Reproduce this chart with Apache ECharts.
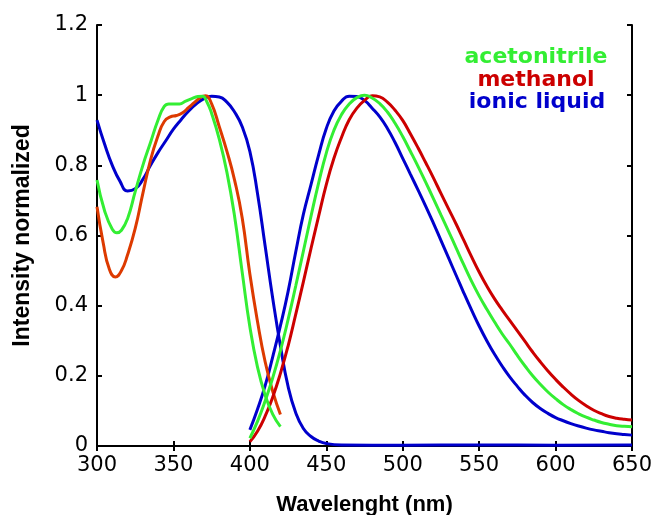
<!DOCTYPE html>
<html>
<head>
<meta charset="utf-8">
<script src="https://cdn.jsdelivr.net/npm/echarts@6/dist/echarts.min.js"></script>
<style>
html, body { margin: 0; padding: 0; background: #fff; }
#chart { width: 654px; height: 515px; }
</style>
</head>
<body>
<div id="chart"></div>
<script>
// absorption spectra [wavelength, intensity]
const absAcetonitrile = [[300,0.758],[305,0.67],[310,0.618],[313,0.608],[316,0.615],[320,0.648],[325,0.725],[330,0.8],[335,0.865],[340,0.93],[344,0.968],[347,0.975],[350,0.975],[354,0.975],[358,0.983],[362,0.99],[366,0.996],[369,0.997],[372,0.98],[375,0.948],[380,0.875],[385,0.78],[390,0.655],[395,0.495],[400,0.34],[405,0.225],[410,0.145],[415,0.09],[420,0.055]]
const absMethanol = [[300,0.682],[304,0.58],[308,0.505],[312,0.482],[316,0.5],[320,0.545],[325,0.62],[330,0.72],[335,0.815],[340,0.885],[344,0.925],[348,0.938],[352,0.942],[356,0.95],[360,0.965],[364,0.98],[368,0.994],[371,0.998],[375,0.975],[380,0.91],[385,0.84],[390,0.758],[395,0.65],[400,0.49],[405,0.355],[410,0.24],[415,0.155],[420,0.09]]
const absIonic = [[300,0.929],[305,0.86],[310,0.8],[315,0.755],[320,0.727],[325,0.733],[330,0.76],[335,0.8],[340,0.837],[345,0.87],[350,0.903],[355,0.93],[360,0.955],[365,0.975],[370,0.99],[375,0.997],[380,0.995],[385,0.98],[390,0.952],[395,0.91],[400,0.84],[405,0.72],[410,0.57],[415,0.42],[420,0.285],[425,0.17],[430,0.095],[435,0.05],[440,0.027],[445,0.014],[450,0.007],[460,0.003],[500,0.002],[550,0.003],[600,0.002],[650,0.003]]

// emission spectra
const emAcetonitrile = [[400,0.022],[405,0.07],[410,0.128],[415,0.195],[420,0.272],[425,0.36],[430,0.456],[435,0.555],[440,0.655],[445,0.75],[450,0.835],[455,0.9],[460,0.945],[465,0.975],[470,0.993],[475,1.0],[480,0.992],[485,0.976],[490,0.952],[495,0.92],[500,0.882],[505,0.84],[510,0.797],[515,0.752],[520,0.706],[525,0.659],[530,0.612],[535,0.564],[540,0.516],[545,0.47],[550,0.428],[555,0.39],[560,0.354],[565,0.32],[570,0.29],[575,0.258],[580,0.228],[585,0.2],[590,0.176],[595,0.154],[600,0.135],[605,0.118],[610,0.104],[615,0.092],[620,0.082],[625,0.074],[630,0.067],[635,0.062],[640,0.058],[645,0.056],[650,0.055]]
const emMethanol = [[400,0.012],[405,0.042],[410,0.085],[415,0.14],[420,0.207],[425,0.285],[430,0.375],[435,0.468],[440,0.563],[445,0.655],[450,0.745],[455,0.82],[460,0.88],[465,0.93],[470,0.963],[475,0.985],[480,0.998],[485,0.995],[490,0.98],[495,0.957],[500,0.928],[505,0.89],[510,0.85],[515,0.808],[520,0.765],[525,0.72],[530,0.676],[535,0.632],[540,0.586],[545,0.54],[550,0.496],[555,0.456],[560,0.42],[565,0.388],[570,0.358],[575,0.328],[580,0.298],[585,0.268],[590,0.24],[595,0.214],[600,0.19],[605,0.168],[610,0.148],[615,0.13],[620,0.115],[625,0.102],[630,0.092],[635,0.084],[640,0.079],[645,0.076],[650,0.074]]
const emIonic = [[400,0.046],[405,0.105],[410,0.172],[415,0.255],[420,0.343],[425,0.44],[430,0.553],[435,0.66],[440,0.745],[445,0.83],[450,0.905],[455,0.955],[460,0.983],[465,0.997],[470,0.996],[475,0.985],[480,0.963],[485,0.938],[490,0.905],[495,0.865],[500,0.82],[505,0.775],[510,0.73],[515,0.684],[520,0.636],[525,0.586],[530,0.536],[535,0.486],[540,0.436],[545,0.388],[550,0.342],[555,0.3],[560,0.262],[565,0.228],[570,0.197],[575,0.17],[580,0.145],[585,0.124],[590,0.107],[595,0.093],[600,0.081],[605,0.072],[610,0.064],[615,0.057],[620,0.051],[625,0.046],[630,0.042],[635,0.038],[640,0.035],[645,0.033],[650,0.031]]

const legendNames = ['acetonitrile', 'methanol', 'ionic liquid']

const GREEN = '#33ee33'
const RED = '#cc0000'
const ORANGE = '#dd3a00'
const BLUE = '#0000cc'

const chart = echarts.init(document.getElementById('chart'))

const line = (data, color) => ({
    type: 'line',
    xAxisIndex: 0,
    yAxisIndex: 0,
    data: data,
    smooth: 0.5,
    showSymbol: false,
    lineStyle: { color: color, width: 3 },
    itemStyle: { color: color },
    z: 2
})

const tickFont = { color: '#000', fontSize: 21, fontFamily: 'DejaVu Sans' }
const axisLine = { show: true, lineStyle: { color: '#000', width: 2 } }
const axisTick = { inside: true, length: 5, lineStyle: { color: '#000', width: 2 } }
const legendFont = 'bold 22px "DejaVu Sans"'

const option = {
    animation: false,
    backgroundColor: '#fff',
    grid: { left: 97, right: 22, top: 25, bottom: 69, outerBoundsMode: 'none', containLabel: false },
    xAxis: [{
        type: 'value',
        min: 300, max: 650, interval: 50,
        name: 'Wavelenght (nm)',
        nameLocation: 'middle',
        nameGap: 48,
        nameTextStyle: { color: '#000', fontSize: 22, fontWeight: 'bold', fontFamily: 'Liberation Sans' },
        axisLine: axisLine,
        axisTick: axisTick,
        axisLabel: Object.assign({ margin: 9 }, tickFont),
        splitLine: { show: false }
    }, {
        type: 'value', position: 'top',
        min: 300, max: 650, interval: 50,
        axisLine: axisLine,
        axisTick: axisTick,
        axisLabel: { show: false },
        splitLine: { show: false }
    }],
    yAxis: [{
        type: 'value',
        min: 0, max: 1.2, interval: 0.2,
        name: 'Intensity normalized',
        nameLocation: 'middle',
        nameGap: 63,
        nameTextStyle: { color: '#000', fontSize: 23, fontWeight: 'bold', fontFamily: 'Liberation Sans' },
        axisLine: axisLine,
        axisTick: axisTick,
        axisLabel: Object.assign({ margin: 9 }, tickFont),
        splitLine: { show: false }
    }, {
        type: 'value', position: 'right',
        min: 0, max: 1.2, interval: 0.2,
        axisLine: axisLine,
        axisTick: axisTick,
        axisLabel: { show: false },
        splitLine: { show: false }
    }],
    graphic: [
        { type: 'text', x: 536, y: 57, style: { text: legendNames[0], fill: GREEN, font: legendFont, align: 'center', verticalAlign: 'middle' } },
        { type: 'text', x: 536, y: 80, style: { text: legendNames[1], fill: RED, font: legendFont, align: 'center', verticalAlign: 'middle' } },
        { type: 'text', x: 537, y: 102, style: { text: legendNames[2], fill: BLUE, font: legendFont, align: 'center', verticalAlign: 'middle' } }
    ],
    series: [
        line(absIonic, BLUE),
        line(emIonic, BLUE),
        line(absMethanol, ORANGE),
        line(emMethanol, RED),
        line(absAcetonitrile, GREEN),
        line(emAcetonitrile, GREEN)
    ]
}

chart.setOption(option)
</script>
</body>
</html>
